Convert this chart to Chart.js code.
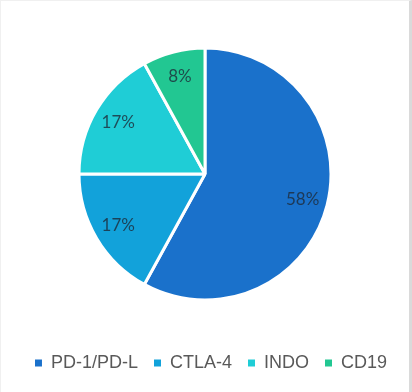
<!DOCTYPE html>
<html>
<head>
<meta charset="utf-8">
<script src="https://cdn.jsdelivr.net/npm/chart.js@4"></script>
<style>
  html, body { margin: 0; padding: 0; background: #fff; }
  #wrap {
    width: 412px; height: 392px; box-sizing: border-box;
    border-left: 1px solid #f0f0f0; border-top: 1px solid #f0f0f0;
    border-right: 3px solid #dadada;
  }
  #wrap canvas { display: block; }
</style>
</head>
<body>
<div id="wrap"><canvas id="pie" width="408" height="391"></canvas></div>
<script>
const labels = ["PD-1/PD-L", "CTLA-4", "INDO", "CD19"];
const shares = [58, 17, 17, 8];
const colors = ["#1a71cb", "#12a2da", "#1fcdd6", "#22c792"];

// percentage text inside each slice, at ~80% of the radius
const sliceLabels = {
  id: "sliceLabels",
  afterDatasetsDraw(chart) {
    const ctx = chart.ctx;
    const meta = chart.getDatasetMeta(0);
    ctx.save();
    ctx.font = "17px Lato, 'Noto Sans', sans-serif";
    ctx.fillStyle = "rgba(30, 42, 56, 0.8)";
    ctx.textAlign = "center";
    ctx.textBaseline = "middle";
    meta.data.forEach((arc, i) => {
      const p = arc.getProps(["x", "y", "startAngle", "endAngle", "outerRadius"], true);
      const mid = (p.startAngle + p.endAngle) / 2;
      const r = p.outerRadius * 0.8;
      ctx.fillText(shares[i] + "%", p.x + Math.cos(mid) * r, p.y + Math.sin(mid) * r);
    });
    ctx.restore();
  }
};

// legend sits a few px right of the pie centre in the original
const nudgeLegend = {
  id: "nudgeLegend",
  afterLayout(chart) {
    chart.legend.left += 6;
    chart.legend.right += 6;
  }
};

new Chart(document.getElementById("pie"), {
  type: "pie",
  data: {
    labels: labels,
    datasets: [{
      data: shares,
      backgroundColor: colors,
      borderColor: "#ffffff",
      borderWidth: 3,
      radius: 126
    }]
  },
  options: {
    responsive: false,
    animation: false,
    layout: { padding: { top: 9, bottom: 10, left: 0, right: 0 } },
    plugins: {
      tooltip: { enabled: false },
      legend: {
        position: "bottom",
        labels: {
          boxWidth: 7,
          boxHeight: 7,
          padding: 16,
          color: "#595959",
          font: { family: "'Liberation Sans', Arial, sans-serif", size: 18 },
          generateLabels(chart) {
            const items = Chart.overrides.pie.plugins.legend.labels.generateLabels(chart);
            items.forEach((it) => { it.lineWidth = 0; it.strokeStyle = it.fillStyle; });
            return items;
          }
        }
      }
    }
  },
  plugins: [sliceLabels, nudgeLegend]
});
</script>
</body>
</html>
